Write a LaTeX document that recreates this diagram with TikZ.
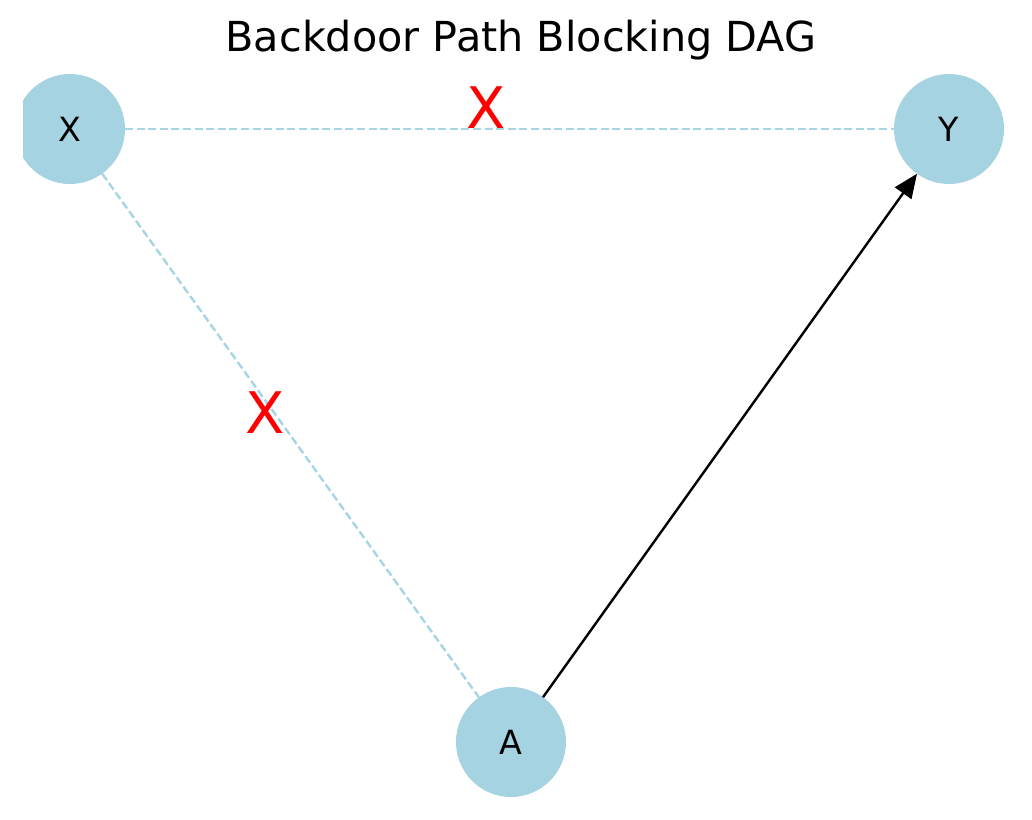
\documentclass[tikz,border=0pt]{standalone}
\usepackage{fontspec}
\setmainfont{DejaVu Sans}
\usepackage{tikz}
\usetikzlibrary{positioning,arrows.meta}

\definecolor{nodeblue}{RGB}{166,211,225}
\definecolor{edgeblue}{RGB}{168,213,228}

\tikzset{
  dagnode/.style={circle,fill=nodeblue,minimum size=82.5pt,inner sep=0pt,outer sep=0pt,font=\fontsize{25}{30}\selectfont},
  blocked/.style={draw=edgeblue,line width=1.8pt,dash pattern=on 6pt off 2.7pt},
  causal/.style={draw=black,line width=1.8pt,-{Triangle[length=18pt,width=15pt]}},
  blockmark/.style={text=red,font=\fontsize{43}{50}\selectfont,inner sep=0pt}
}

\begin{document}
\begin{tikzpicture}[x=0.75pt,y=0.75pt,yscale=-1,xscale=1]
        %set diagram size to 1032 x 820
        \useasboundingbox (0,0) rectangle (1032,820);
        
        % Title
        \node [anchor=base,font=\fontsize{31}{36}\selectfont] (title) at (521,52) {Backdoor Path Blocking DAG};
        
        %Nodes (X is cut by the left edge of the axes)
        \begin{scope}
          \clip (23,0) rectangle (1032,820);
          \node [dagnode] (X) at (70,129) {X};
        \end{scope}
        \node [dagnode] (Y) at (949,129) {Y};
        \node [dagnode] (A) at (511,742) {A};
        
        %Blocked backdoor edges
        \draw [blocked] (X) -- (Y);
        \draw [blocked] (X) -- (A);
        
        %Causal edge
        \draw [causal] (A) -- (Y);
        
        % Text Node
        \node [blockmark] (markxy) at (486,108) {X};
        % Text Node
        \node [blockmark] (markxa) at (265,413) {X};
\end{tikzpicture}
\end{document}
